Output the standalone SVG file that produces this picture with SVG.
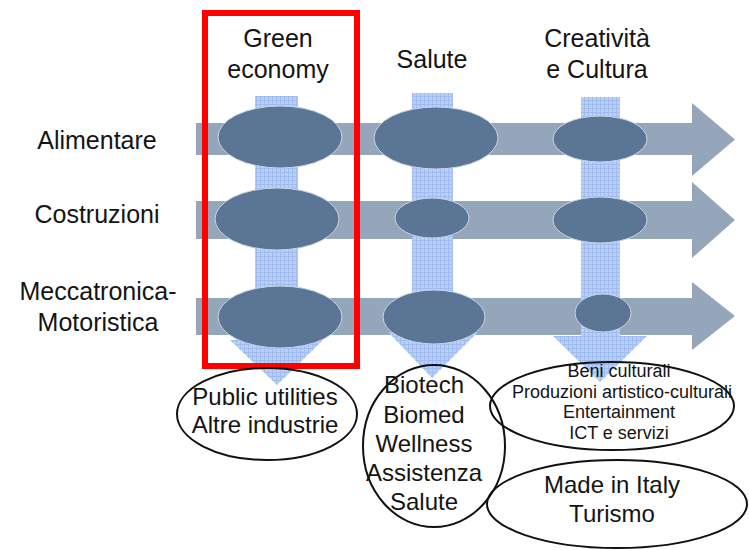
<svg xmlns="http://www.w3.org/2000/svg" width="749" height="550" viewBox="0 0 749 550">
<defs>
<pattern id="grid" width="4" height="4" patternUnits="userSpaceOnUse">
<rect width="4" height="4" fill="#b9cff7"/>
<path d="M0 0.5H4M0.5 0V4" stroke="#a0bbef" stroke-width="1"/>
</pattern>
</defs>
<style>
.t{font-family:"Liberation Sans",Arial,sans-serif;fill:#141414;text-anchor:middle}
.h{fill:#96a6ba}
.v{fill:url(#grid)}
.d{fill:#5b7594;stroke:#c9d5e6;stroke-width:1}
.o{fill:none;stroke:#111;stroke-width:2}
</style>
<rect width="749" height="550" fill="#fff"/>
<g id="connectors">
<path class="h" d="M196 123H692V103L735 139.5L692 176V155H196Z"/>
<path class="h" d="M196 201H692V182L735 220L692 258V239H196Z"/>
<path class="h" d="M196 298H692V282L735 316L692 350V335H196Z"/>
<path class="v" d="M255 96H298V340H323L277 385L230 340H255Z"/>
<path class="v" d="M412 93H453V332H478L432 378L388 332H412Z"/>
<path class="v" d="M581 97H620V336H647L600 382L553 336H581Z"/>
</g>
<g id="cells">
<ellipse class="d" cx="280" cy="137" rx="62" ry="31"/>
<ellipse class="d" cx="436" cy="138" rx="62" ry="31"/>
<ellipse class="d" cx="600" cy="139" rx="47" ry="23"/>
<ellipse class="d" cx="277" cy="219" rx="62" ry="31"/>
<ellipse class="d" cx="432" cy="218" rx="37" ry="20"/>
<ellipse class="d" cx="600" cy="220" rx="47" ry="23"/>
<ellipse class="d" cx="280" cy="317" rx="62" ry="31"/>
<ellipse class="d" cx="434" cy="317" rx="51" ry="27"/>
<ellipse class="d" cx="603" cy="313" rx="28" ry="19"/>
</g>
<g id="highlight">
<rect x="205" y="13" width="152" height="353" fill="none" stroke="#ff0000" stroke-width="6"/>
</g>
<g id="col-green">
<text class="t" x="278" y="47" font-size="25">Green</text>
<text class="t" x="278" y="78" font-size="25">economy</text>
</g>
<g id="col-salute">
<text class="t" x="432" y="68" font-size="25">Salute</text>
</g>
<g id="col-cultura">
<text class="t" x="597" y="47" font-size="25">Creatività</text>
<text class="t" x="597" y="78" font-size="25">e Cultura</text>
</g>
<g id="row-alimentare">
<text class="t" x="97" y="149" font-size="25">Alimentare</text>
</g>
<g id="row-costruzioni">
<text class="t" x="97" y="223" font-size="25">Costruzioni</text>
</g>
<g id="row-meccatronica">
<text class="t" x="98" y="300" font-size="25">Meccatronica-</text>
<text class="t" x="98" y="331" font-size="25">Motoristica</text>
</g>
<g id="out-green">
<ellipse class="o" cx="267" cy="414" rx="90" ry="46"/>
<text class="t" x="265" y="405" font-size="24">Public utilities</text>
<text class="t" x="265" y="433" font-size="24">Altre industrie</text>
</g>
<g id="out-salute">
<ellipse class="o" cx="434" cy="446" rx="71" ry="81"/>
<text class="t" x="424" y="393" font-size="24">Biotech</text>
<text class="t" x="424" y="423" font-size="24">Biomed</text>
<text class="t" x="424" y="452" font-size="24">Wellness</text>
<text class="t" x="424" y="481" font-size="24">Assistenza</text>
<text class="t" x="424" y="510" font-size="24">Salute</text>
</g>
<g id="out-cultura">
<ellipse class="o" cx="612" cy="406" rx="122" ry="44"/>
<text class="t" x="619" y="377" font-size="18">Beni culturali</text>
<text class="t" x="622" y="398" font-size="18">Produzioni artistico-culturali</text>
<text class="t" x="619" y="418" font-size="18">Entertainment</text>
<text class="t" x="619" y="439" font-size="18">ICT e servizi</text>
</g>
<g id="out-italy">
<ellipse class="o" cx="617" cy="504" rx="130" ry="44"/>
<text class="t" x="612" y="493" font-size="24">Made in Italy</text>
<text class="t" x="612" y="522" font-size="24">Turismo</text>
</g>
</svg>
